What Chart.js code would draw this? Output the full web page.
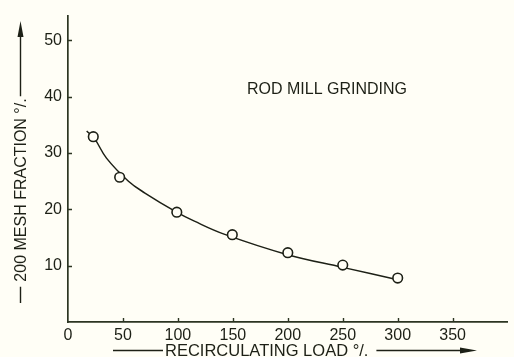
<!DOCTYPE html>
<html>
<head>
<meta charset="utf-8">
<script src="https://cdn.jsdelivr.net/npm/chart.js@4.4.1/dist/chart.umd.min.js"></script>
<style>
  html, body { margin: 0; padding: 0; background: #fffef6; }
  #wrap { width: 514px; height: 357px; position: relative; }
</style>
</head>
<body>
<div id="wrap"><canvas id="c" width="514" height="357"></canvas></div>
<script>
// ---- data ----
const xTickValues = [0, 50, 100, 150, 200, 250, 300, 350];
const yTickValues = [10, 20, 30, 40, 50];
const measuredLoad = [23, 47, 99, 149.5, 200, 250, 300];
const measuredFraction = [32.9, 25.7, 19.5, 15.5, 12.3, 10.1, 7.8];
const curveLoad = [17, 24, 35, 55, 70, 98, 115, 142, 199, 250, 300];
const curveFraction = [33.9, 32.6, 29.1, 25.0, 22.9, 19.6, 17.9, 15.6, 12.0, 9.7, 7.5];
const xAxisTitle = 'RECIRCULATING LOAD °/.';
const yAxisTitle = '200 MESH FRACTION °/.';
const plotLabel = 'ROD MILL GRINDING';

const INK = '#1d2016';
const AXIS = '#2c3522';
const BG = '#fffef6';
const TICK_FONT = { family: '"Liberation Sans Narrow", "Liberation Sans", Arial, sans-serif', size: 16 };

const toXY = (xs, ys) => xs.map((x, i) => ({ x: x, y: ys[i] }));

const decorPlugin = {
  id: 'decor',
  afterDraw(chart) {
    const ctx = chart.ctx;
    const xs = chart.scales.x, ys = chart.scales.y;
    const area = chart.chartArea;
    ctx.save();
    // inward tick marks
    ctx.strokeStyle = AXIS;
    ctx.lineWidth = 1.4;
    ctx.beginPath();
    xTickValues.forEach(v => {
      if (v === 0) return;
      const px = Math.round(xs.getPixelForValue(v)) + 0.5;
      ctx.moveTo(px, area.bottom);
      ctx.lineTo(px, area.bottom - 4);
    });
    yTickValues.forEach(v => {
      const py = Math.round(ys.getPixelForValue(v)) + 0.5;
      ctx.moveTo(area.left, py);
      ctx.lineTo(area.left + 4, py);
    });
    ctx.stroke();

    ctx.fillStyle = INK;
    ctx.strokeStyle = INK;

    // label inside plot
    ctx.font = '16px "Liberation Sans", Arial, sans-serif';
    ctx.textAlign = 'left';
    ctx.textBaseline = 'alphabetic';
    ctx.fillText(plotLabel, 247, 94);

    // x axis title with leading dash and trailing arrow
    ctx.font = '16.5px "Liberation Sans", Arial, sans-serif';
    const xStart = 165;
    ctx.fillText(xAxisTitle, xStart, 355.5);
    const xw = ctx.measureText(xAxisTitle).width;
    ctx.lineWidth = 1.4;
    ctx.beginPath();
    ctx.moveTo(113, 350.5); ctx.lineTo(xStart - 2, 350.5);
    ctx.moveTo(xStart + xw + 8, 350.5); ctx.lineTo(466, 350.5);
    ctx.stroke();
    ctx.beginPath();
    ctx.moveTo(477, 350.5); ctx.lineTo(460, 347.5); ctx.lineTo(460, 353.5); ctx.closePath();
    ctx.fill();

    // y axis title, rotated
    ctx.font = '16px "Liberation Sans", Arial, sans-serif';
    const yw = ctx.measureText(yAxisTitle).width;
    const yc = 190;
    ctx.save();
    ctx.translate(22, yc);
    ctx.rotate(-Math.PI / 2);
    ctx.textAlign = 'center';
    ctx.textBaseline = 'middle';
    ctx.fillText(yAxisTitle, 0, 0);
    ctx.restore();
    ctx.beginPath();
    ctx.moveTo(20.5, 303); ctx.lineTo(20.5, yc + yw / 2 + 5);
    ctx.moveTo(20.5, yc - yw / 2 - 2); ctx.lineTo(20.5, 34);
    ctx.stroke();
    ctx.beginPath();
    ctx.moveTo(20.5, 21); ctx.lineTo(17.5, 37); ctx.lineTo(23.5, 37); ctx.closePath();
    ctx.fill();
    ctx.restore();
  }
};

const bgPlugin = {
  id: 'bg',
  beforeDraw(chart) {
    const ctx = chart.ctx;
    ctx.save();
    ctx.fillStyle = BG;
    ctx.fillRect(0, 0, chart.width, chart.height);
    ctx.restore();
  }
};

new Chart(document.getElementById('c'), {
  type: 'scatter',
  data: {
    datasets: [
      {
        label: 'measured',
        data: toXY(measuredLoad, measuredFraction),
        pointStyle: 'circle',
        pointRadius: 4.8,
        pointBorderWidth: 1.6,
        pointBackgroundColor: BG,
        pointBorderColor: INK,
        showLine: false
      },
      {
        label: 'fit',
        data: toXY(curveLoad, curveFraction),
        showLine: true,
        pointRadius: 0,
        borderColor: INK,
        borderWidth: 1.5,
        tension: 0.4,
        fill: false
      }
    ]
  },
  options: {
    responsive: false,
    animation: false,
    devicePixelRatio: 1,
    layout: { padding: { top: 13, right: 0, left: 0, bottom: 0 } },
    plugins: { legend: { display: false }, tooltip: { enabled: false } },
    scales: {
      x: {
        type: 'linear',
        min: 0, max: 400,
        afterBuildTicks: s => { s.ticks = xTickValues.map(v => ({ value: v })); },
        afterFit: s => { s.height = 35; },
        grid: { display: true, drawOnChartArea: false, drawTicks: false },
        border: { display: true, color: AXIS, width: 1.7 },
        ticks: { color: INK, font: TICK_FONT, padding: 4, maxRotation: 0, autoSkip: false }
      },
      y: {
        type: 'linear',
        min: 0, max: 54.4,
        afterBuildTicks: s => { s.ticks = yTickValues.map(v => ({ value: v })); },
        afterFit: s => { s.width = 68; },
        grid: { display: true, drawOnChartArea: false, drawTicks: false },
        border: { display: true, color: AXIS, width: 1.7 },
        ticks: { color: INK, font: TICK_FONT, padding: 6, autoSkip: false }
      }
    }
  },
  plugins: [bgPlugin, decorPlugin]
});
</script>
</body>
</html>
